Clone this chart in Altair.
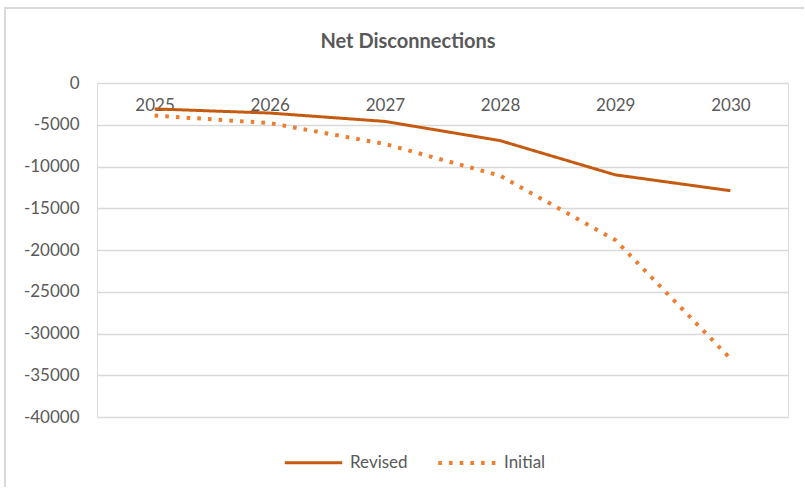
import altair as alt
import pandas as pd

title_text = ["Net Disconnections"]
years = ["2025", "2026", "2027", "2028", "2029", "2030"]
revised = [-3100, -3600, -4600, -6900, -11000, -12900]
initial = [-3900, -4800, -7300, -11100, -18800, -33000]
series_names = ["Revised", "Initial"]
series_colors = ["#C55A11", "#ED7D31"]

rows = []
for yr, r, i in zip(years, revised, initial):
    rows.append({"Year": yr, "Value": r, "Series": "Revised"})
    rows.append({"Year": yr, "Value": i, "Series": "Initial"})
df = pd.DataFrame(rows)

W, H = 691, 334
FONT = "Lato"
GRAY = "#595959"
EDGE = "#D9D9D9"

title_df = pd.DataFrame({"t": title_text})

# chart-area frame (left and top edges; kept inside the picture)
frame_left = alt.Chart(title_df).mark_rule(stroke=EDGE, strokeWidth=2).encode(
    x=alt.value(-92), y=alt.value(-76), y2=alt.value(H + 70),
)
frame_top = alt.Chart(title_df).mark_rule(stroke=EDGE, strokeWidth=2).encode(
    x=alt.value(-93), x2=alt.value(W + 16), y=alt.value(-75),
)

title = alt.Chart(title_df).mark_text(
    font=FONT, fontSize=20, fontWeight="bold", color=GRAY, align="center", baseline="middle"
).encode(
    text="t:N", x=alt.value(311), y=alt.value(-41),
)

lines = alt.Chart(df).mark_line(interpolate="linear", strokeJoin="round").encode(
    x=alt.X("Year:N", sort=years, title=None,
            axis=alt.Axis(orient="bottom", offset=-H, domain=False, ticks=False,
                          labelPadding=14, labelAngle=0, labelFontSize=17,
                          labelColor=GRAY, labelFont=FONT, grid=False)),
    y=alt.Y("Value:Q", title=None,
            scale=alt.Scale(domain=[-40000, 0], nice=False),
            axis=alt.Axis(values=list(range(-40000, 1, 5000)), labelExpr="datum.value + ''",
                          domain=False, ticks=False, labelPadding=18, labelFontSize=17,
                          labelColor=GRAY, labelFont=FONT, grid=True,
                          gridColor=EDGE, gridWidth=1.5)),
    color=alt.Color("Series:N", sort=series_names,
                    scale=alt.Scale(domain=series_names, range=series_colors),
                    legend=alt.Legend(title=None, orient="none", direction="horizontal",
                                      legendX=186, legendY=349, symbolType="stroke",
                                      symbolSize=3300, symbolStrokeWidth=3.5,
                                      labelFontSize=17, labelColor=GRAY, labelFont=FONT,
                                      labelOffset=6, columnPadding=22)),
    strokeDash=alt.StrokeDash("Series:N", sort=series_names,
                              scale=alt.Scale(domain=series_names, range=[[1, 0], [3.6, 7.1]]),
                              legend=None),
    strokeWidth=alt.StrokeWidth("Series:N", sort=series_names,
                                scale=alt.Scale(domain=series_names, range=[3, 4]),
                                legend=None),
)

chart = alt.layer(frame_left, frame_top, title, lines).properties(
    width=W, height=H,
    autosize=alt.AutoSizeParams(type="none"),
    padding={"left": 97, "top": 83, "right": 17, "bottom": 71},
).configure_view(stroke=None).configure(background="white")

chart.save("out.html", embed_options={"renderer": "svg", "actions": False})
